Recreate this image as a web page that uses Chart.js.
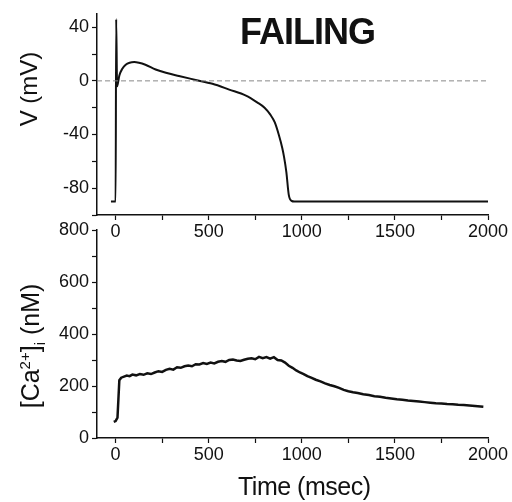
<!DOCTYPE html>
<html lang="en">
<head>
  <meta charset="UTF-8" />
  <title>Failing</title>
  <script src="https://cdn.jsdelivr.net/npm/chart.js"></script>
  <style>
    body { margin: 0; background: #fff; }
    .wrap { position: relative; width: 512px; height: 502px; overflow: hidden; font-family: "Liberation Sans", Arial, sans-serif; color: #111; }
    canvas { position: absolute; left: 0; top: 0; }
    .title { position: absolute; left: 240px; top: 14px; font-size: 36px; line-height: 36px; font-weight: bold; letter-spacing: -1px; }
    .xtitle { position: absolute; left: 238px; top: 474px; font-size: 25px; line-height: 25px; letter-spacing: -0.5px; white-space: nowrap; }
    .ytitle { position: absolute; font-size: 24px; line-height: 24px; white-space: nowrap; transform: translate(-50%, -50%) rotate(-90deg); }
    .ytitle sup, .ytitle sub { font-size: 15px; line-height: 0; }
  </style>
</head>
<body>
  <div class="wrap">
    <canvas id="graficoV" width="512" height="502"></canvas>
    <canvas id="graficoCa" width="512" height="502"></canvas>
    <div class="title">FAILING</div>
    <div class="ytitle" style="left:29px; top:89px;">V (mV)</div>
    <div class="ytitle" style="left:30px; top:346px; font-size:25px;">[Ca<sup>2+</sup>]<sub>i</sub> (nM)</div>
    <div class="xtitle">Time (msec)</div>
  </div>

  <script>
    // potencial de accion (ms, mV)
    const tiempoV = [-25, 0, 3, 8, 12, 20, 36, 54, 75, 100, 125, 160, 215, 270, 340, 430, 520, 610, 700, 760, 800, 830, 855, 876, 895, 905, 917, 930, 945, 960, 2000];
    const voltaje = [-90, -90, 46, -4, -2, 4, 9, 12, 13.5, 14, 13.5, 12, 8.5, 6, 3.6, 0.7, -2.2, -6.5, -11, -16, -20, -25, -31, -40, -50, -57, -68, -85, -89.5, -90, -90];

    // calcio intracelular (ms, nM)
    const tiempoCa = [-10, 0, 10, 15, 20, 30, 45, 60, 75, 90, 110, 130, 150, 170, 190, 210, 230, 250, 270, 290, 310, 330, 350, 370, 390, 410, 430, 450, 470, 490, 510, 530, 550, 570, 590, 610, 630, 650, 670, 690, 710, 730, 750, 770, 790, 810, 830, 850, 870, 890, 910, 930, 950, 970, 990, 1010, 1030, 1050, 1075, 1100, 1125, 1150, 1175, 1200, 1225, 1250, 1275, 1300, 1330, 1360, 1390, 1420, 1450, 1480, 1510, 1540, 1570, 1600, 1630, 1660, 1690, 1720, 1750, 1780, 1810, 1840, 1870, 1900, 1930, 1960, 1975];
    const calcio = [62, 65, 78, 150, 222, 232, 236, 240, 238, 244, 241, 246, 243, 249, 246, 252, 257, 254, 262, 266, 263, 272, 270, 276, 279, 276, 284, 283, 288, 285, 290, 287, 293, 296, 293, 300, 302, 298, 296, 301, 305, 307, 303, 312, 307, 311, 305, 311, 300, 298, 290, 278, 270, 260, 252, 246, 238, 232, 224, 218, 210, 204, 199, 193, 185, 180, 176, 173, 168, 165, 161, 159, 155, 152, 149, 147, 144, 142, 140, 138, 136, 134, 133, 131, 130, 128, 127, 125, 123, 121, 120];

    const lineaCero = [-100, 2000];

    const ticksX = [0, 500, 1000, 1500, 2000];
    const ticksV = [-80, -40, 0, 40];
    const ticksCa = [0, 200, 400, 600, 800];

    Chart.defaults.font.family = '"Liberation Sans", Arial, sans-serif';
    Chart.defaults.font.size = 18;
    Chart.defaults.color = '#111';

    function puntos(xs, ys) {
      return xs.map((x, i) => ({ x: x, y: ys[i] }));
    }

    function ejeX() {
      return {
        type: 'linear',
        min: -100,
        max: 2000,
        border: { color: '#111', width: 1.5 },
        grid: { drawOnChartArea: false, tickLength: 5, tickColor: '#111', tickWidth: 1.2 },
        ticks: {
          stepSize: 250,
          includeBounds: false,
          autoSkip: false,
          maxRotation: 0,
          padding: 1,
          callback: v => ticksX.includes(v) ? String(v) : ''
        },
        afterFit: s => { s.height = 30; }
      };
    }

    function ejeY(min, max, paso, etiquetas) {
      return {
        min: min,
        max: max,
        border: { color: '#111', width: 1.5 },
        grid: { drawOnChartArea: false, tickLength: 5, tickColor: '#111', tickWidth: 1.2 },
        ticks: {
          stepSize: paso,
          includeBounds: false,
          autoSkip: false,
          padding: 3,
          callback: v => etiquetas.includes(v) ? String(v) : ''
        },
        afterFit: s => { s.width = 97; }
      };
    }

    new Chart(document.getElementById('graficoV'), {
      type: 'line',
      data: {
        datasets: [
          {
            data: puntos(lineaCero, [0, 0]),
            borderColor: '#888',
            borderWidth: 1,
            borderDash: [5, 3],
            pointRadius: 0
          },
          {
            data: puntos(tiempoV, voltaje),
            borderColor: '#111',
            borderWidth: 2,
            pointRadius: 0,
            cubicInterpolationMode: 'monotone'
          }
        ]
      },
      options: {
        responsive: false,
        animation: false,
        layout: { padding: { left: 0, top: 6, right: 24, bottom: 257 } },
        plugins: { legend: { display: false }, tooltip: { enabled: false } },
        scales: {
          x: ejeX(),
          y: ejeY(-100, 50, 20, ticksV)
        }
      }
    });

    new Chart(document.getElementById('graficoCa'), {
      type: 'line',
      data: {
        datasets: [
          {
            data: puntos(tiempoCa, calcio),
            borderColor: '#111',
            borderWidth: 2.5,
            pointRadius: 0
          }
        ]
      },
      options: {
        responsive: false,
        animation: false,
        layout: { padding: { left: 0, top: 230, right: 24, bottom: 34 } },
        plugins: { legend: { display: false }, tooltip: { enabled: false } },
        scales: {
          x: ejeX(),
          y: ejeY(0, 800, 100, ticksCa)
        }
      }
    });
  </script>
</body>
</html>
